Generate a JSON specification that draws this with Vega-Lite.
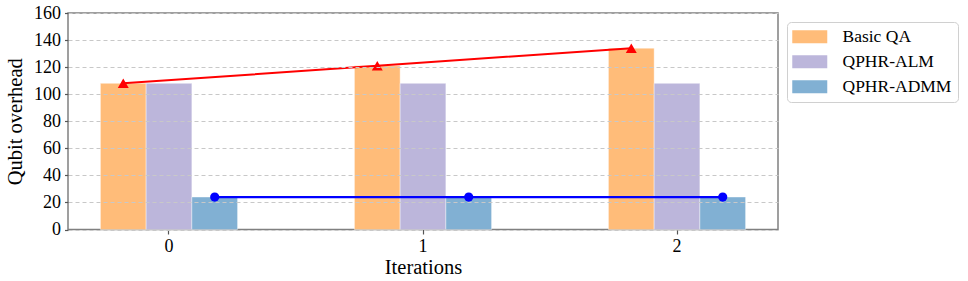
{
  "$schema": "https://vega.github.io/schema/vega-lite/v6.json",
  "autosize": "none",
  "width": 710,
  "height": 216.5,
  "padding": {"left": 68, "top": 13, "right": 190, "bottom": 51.5},
  "background": "white",
  "config": {
    "font": "Liberation Serif",
    "view": {"stroke": "#808080", "strokeWidth": 1.5},
    "axis": {"domain": false}
  },
  "data": {
    "values": [
      {"iter": "0", "series": "Basic QA", "value": 108},
      {"iter": "0", "series": "QPHR-ALM", "value": 108},
      {"iter": "0", "series": "QPHR-ADMM", "value": 24},
      {"iter": "1", "series": "Basic QA", "value": 121},
      {"iter": "1", "series": "QPHR-ALM", "value": 108},
      {"iter": "1", "series": "QPHR-ADMM", "value": 24},
      {"iter": "2", "series": "Basic QA", "value": 134},
      {"iter": "2", "series": "QPHR-ALM", "value": 108},
      {"iter": "2", "series": "QPHR-ADMM", "value": 24}
    ]
  },
  "encoding": {
    "x": {
      "field": "iter", "type": "nominal", "sort": ["0", "1", "2"],
      "scale": {"type": "band", "paddingInner": 0.46, "paddingOuter": 0.1276},
      "axis": {
        "title": "Iterations", "labelAngle": 0, "labelFontSize": 18, "labelColor": "#000",
        "titleFontSize": 20.5, "titleFontWeight": "normal", "titleColor": "#000",
        "tickSize": 4.5, "tickColor": "#555", "tickWidth": 1.2, "labelPadding": 3, "titlePadding": 2,
        "grid": false
      }
    },
    "xOffset": {
      "field": "series", "type": "nominal",
      "scale": {"domain": ["Basic QA", "QPHR-ALM", "QPHR-ADMM"], "paddingInner": 0, "paddingOuter": 0}
    },
    "y": {
      "field": "value", "type": "quantitative",
      "scale": {"domain": [0, 160], "nice": false},
      "axis": {
        "title": "Qubit overhead", "values": [0, 20, 40, 60, 80, 100, 120, 140, 160],
        "labelFontSize": 18, "labelColor": "#000", "titleFontSize": 20.5, "titleFontWeight": "normal", "titleColor": "#000",
        "tickSize": 3.5, "tickColor": "#555", "tickWidth": 1.2, "labelPadding": 4, "titlePadding": 8,
        "grid": true, "gridDash": [4, 3], "gridColor": "#c8c8c8", "gridWidth": 1, "zindex": 1
      }
    }
  },
  "layer": [
    {
      "mark": {"type": "bar", "stroke": "white", "strokeOpacity": 0.4, "strokeWidth": 1},
      "encoding": {
        "color": {
          "field": "series", "type": "nominal",
          "scale": {"domain": ["Basic QA", "QPHR-ALM", "QPHR-ADMM"], "range": ["#FFBC79", "#BCB6DB", "#81B0D3"]},
          "legend": {
            "title": null, "orient": "none", "legendX": 719, "legendY": 9,
            "symbolType": "M-1.46,-1L3.925,-1L3.925,1L-1.46,1Z", "symbolSize": 169, "symbolStrokeWidth": 0,
            "symbolOpacity": 1,
            "labelFontSize": 17.5, "labelColor": "#000", "labelOffset": 32, "rowPadding": 6,
            "padding": 6, "fillColor": "white", "strokeColor": "#d0d0d0", "cornerRadius": 4
          }
        }
      }
    },
    {
      "transform": [{"filter": "datum.series === 'Basic QA'"}],
      "mark": {"type": "line", "color": "#ff0000", "strokeWidth": 2}
    },
    {
      "transform": [{"filter": "datum.series === 'Basic QA'"}],
      "mark": {"type": "point", "shape": "triangle-up", "filled": true, "color": "#ff0000", "opacity": 1, "size": 120}
    },
    {
      "transform": [{"filter": "datum.series === 'QPHR-ADMM'"}],
      "mark": {"type": "line", "color": "#0000ff", "strokeWidth": 2.2}
    },
    {
      "transform": [{"filter": "datum.series === 'QPHR-ADMM'"}],
      "mark": {"type": "point", "shape": "circle", "filled": true, "color": "#0000ff", "opacity": 1, "size": 85}
    }
  ]
}
